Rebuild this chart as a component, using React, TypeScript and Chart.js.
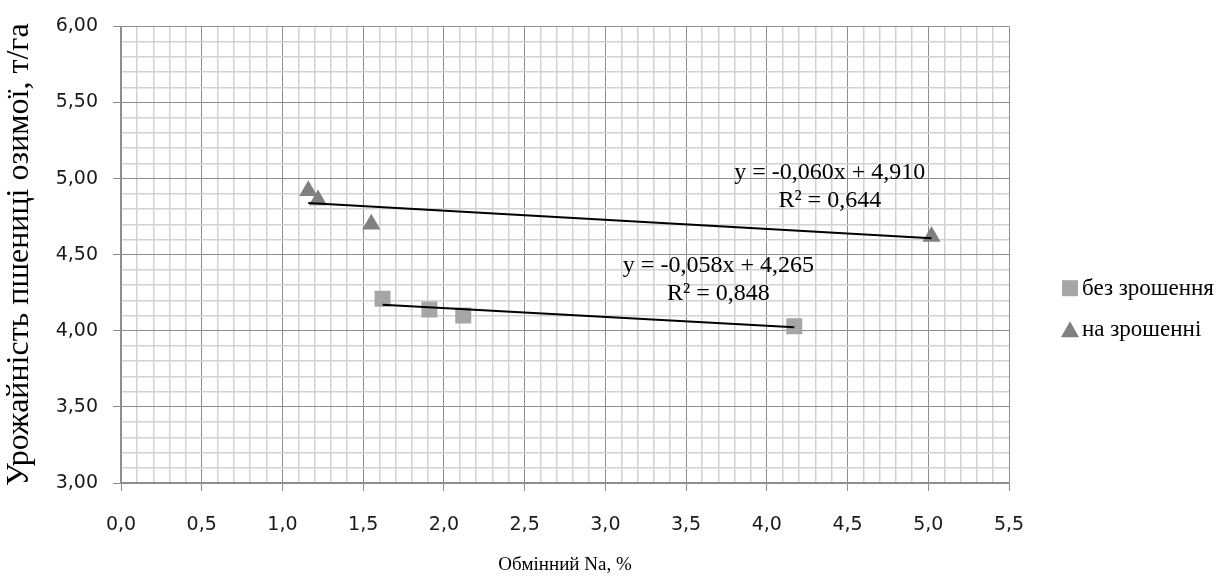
import React, { useEffect, useRef } from 'react';
import { Chart, registerables } from 'chart.js';

Chart.register(...registerables);

// ---- data ----
const seriesNames = ['без зрошення', 'на зрошенні'];
const noIrrX = [1.62, 1.91, 2.12, 4.17];
const noIrrY = [4.21, 4.14, 4.10, 4.03];
const irrX = [1.16, 1.22, 1.55, 5.02];
const irrY = [4.92, 4.86, 4.70, 4.62];
const trendSlope = [-0.058, -0.060];
const trendIntercept = [4.265, 4.910];
const equationTexts = ['y = -0,058x + 4,265', 'y = -0,060x + 4,910'];
const r2Texts = ['R² = 0,848', 'R² = 0,644'];
const labelAnchorX = [3.70, 4.39];
const labelAnchorY = [4.43, 5.04];
const xTitle = 'Обмінний Na, %';
const yTitle = 'Урожайність пшениці озимої, т/га';
const xRange = [0, 5.5];
const yRange = [3, 6];

const seriesColors = ['#a6a6a6', '#808080'];
const seriesShapes = ['rect', 'triangle'];
const serifFont = '"Liberation Serif", "Times New Roman", serif';
const sansFont = '"DejaVu Sans", sans-serif';

const isMajor = (v: number) => Math.round(v * 10) % 5 === 0;

function trendPoints(xs: number[], i: number) {
  const lo = Math.min(...xs);
  const hi = Math.max(...xs);
  return [lo, hi].map((x) => ({ x, y: trendSlope[i] * x + trendIntercept[i] }));
}

const overlayPlugin = {
  id: 'overlay',
  afterDatasetsDraw(chart: any) {
    const { ctx, chartArea, scales } = chart;
    const sx = scales.x;
    const sy = scales.y;
    ctx.save();
    // equations
    ctx.fillStyle = '#000';
    ctx.textAlign = 'center';
    ctx.textBaseline = 'middle';
    ctx.font = `24px ${serifFont}`;
    for (let i = 0; i < equationTexts.length; i++) {
      const px = sx.getPixelForValue(labelAnchorX[i]);
      const py = sy.getPixelForValue(labelAnchorY[i]);
      ctx.fillText(equationTexts[i], px, py);
      ctx.fillText(r2Texts[i], px, py + 28);
    }
    // legend
    const lx = chartArea.right + 61;
    const cy = (chartArea.top + chartArea.bottom) / 2 + 54;
    const gap = 41;
    ctx.font = `23px ${serifFont}`;
    ctx.textAlign = 'left';
    for (let i = 0; i < seriesNames.length; i++) {
      const y = cy - gap / 2 + i * gap;
      ctx.fillStyle = seriesColors[i];
      if (seriesShapes[i] === 'rect') {
        ctx.fillRect(lx - 8, y - 8, 16, 16);
      } else {
        ctx.beginPath();
        ctx.moveTo(lx, y - 8);
        ctx.lineTo(lx + 9, y + 8);
        ctx.lineTo(lx - 9, y + 8);
        ctx.closePath();
        ctx.fill();
      }
      ctx.fillStyle = '#000';
      ctx.fillText(seriesNames[i], lx + 12, y + 1);
    }
    ctx.restore();
  },
};

function axisCommon(title: string, digits: number, titleSize: number) {
  return {
    type: 'linear' as const,
    ticks: {
      stepSize: 0.1,
      autoSkip: false,
      maxRotation: 0,
      minRotation: 0,
      color: '#1a1a1a',
      font: { family: sansFont, size: 19 },
      callback: (v: any) => (isMajor(Number(v)) ? Number(v).toFixed(digits).replace('.', ',') : ''),
    },
    grid: {
      color: (c: any) => (c.tick && isMajor(c.tick.value) ? '#8e8e8e' : '#d2d2d2'),
      lineWidth: (c: any) => (c.tick && isMajor(c.tick.value) ? 1 : 1.5),
      tickColor: (c: any) => (c.tick && isMajor(c.tick.value) ? '#8e8e8e' : 'rgba(0,0,0,0)'),
      tickLength: 8,
      drawTicks: true,
    },
    border: { color: '#8e8e8e', width: 1.5 },
    title: {
      display: true,
      text: title,
      color: '#000',
      font: { family: serifFont, size: titleSize },
      padding: { top: 0, bottom: 0 },
    },
  };
}

export default function App() {
  const ref = useRef<HTMLCanvasElement>(null);
  useEffect(() => {
    if (!ref.current) return;
    const xCommon = axisCommon(xTitle, 1, 19);
    const yCommon = axisCommon(yTitle, 2, 32);
    const chart = new Chart(ref.current, {
      type: 'scatter',
      data: {
        datasets: [
          {
            label: seriesNames[0],
            data: noIrrX.map((x, i) => ({ x, y: noIrrY[i] })),
            pointStyle: 'rect',
            pointRadius: 11.3,
            pointHoverRadius: 11.3,
            backgroundColor: seriesColors[0],
            borderColor: seriesColors[0],
            borderWidth: 0,
            order: 2,
          },
          {
            label: seriesNames[1],
            data: irrX.map((x, i) => ({ x, y: irrY[i] })),
            pointStyle: 'triangle',
            pointRadius: 10.5,
            pointHoverRadius: 10.5,
            backgroundColor: seriesColors[1],
            borderColor: seriesColors[1],
            borderWidth: 0,
            order: 2,
          },
          {
            label: 'trend0',
            data: trendPoints(noIrrX, 0),
            showLine: true,
            borderColor: '#000',
            borderWidth: 2,
            pointRadius: 0,
            order: 1,
          },
          {
            label: 'trend1',
            data: trendPoints(irrX, 1),
            showLine: true,
            borderColor: '#000',
            borderWidth: 2,
            pointRadius: 0,
            order: 1,
          },
        ],
      } as any,
      options: {
        animation: false,
        responsive: true,
        maintainAspectRatio: false,
        layout: { padding: { left: 0, top: 23, right: 217, bottom: 0 } },
        plugins: { legend: { display: false }, tooltip: { enabled: false } },
        scales: {
          x: {
            ...xCommon,
            position: 'bottom',
            min: xRange[0],
            max: xRange[1],
            ticks: { ...xCommon.ticks, padding: 23 },
            title: { ...xCommon.title, padding: { top: 0, bottom: 7 } },
            afterFit: (s: any) => {
              s.height = 100;
            },
          },
          y: {
            ...yCommon,
            position: 'left',
            min: yRange[0],
            max: yRange[1],
            ticks: { ...yCommon.ticks, padding: 15 },
            title: { ...yCommon.title, padding: { top: 0, bottom: 0 } },
            afterFit: (s: any) => {
              s.width = 121;
            },
          },
        },
      } as any,
      plugins: [overlayPlugin],
    });
    return () => chart.destroy();
  }, []);
  return (
    <div style={{ position: 'fixed', left: 0, top: 0, width: 1226, height: 583, background: '#fff' }}>
      <canvas ref={ref} />
    </div>
  );
}
